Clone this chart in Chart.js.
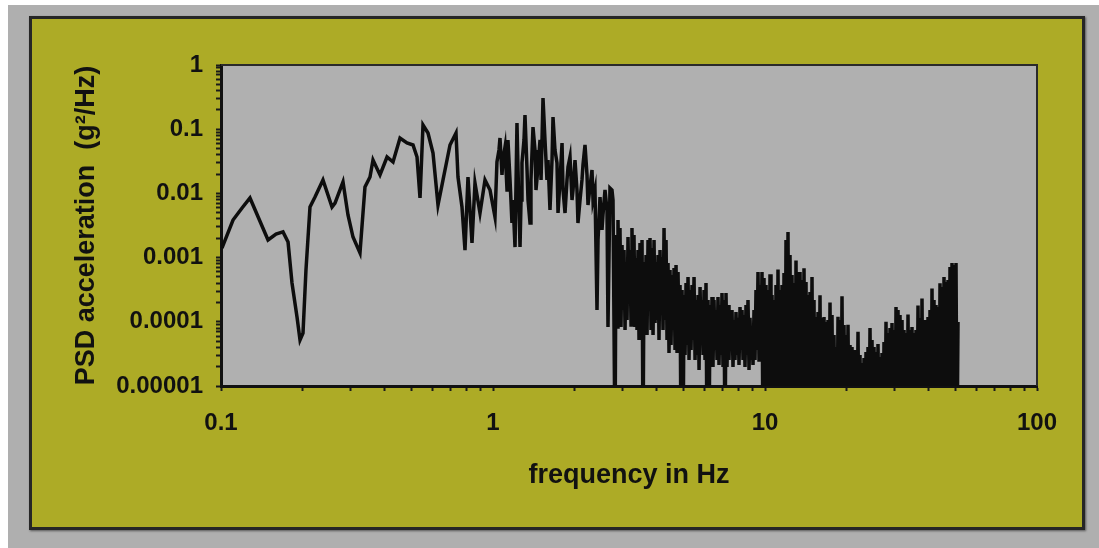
<!DOCTYPE html>
<html><head><meta charset="utf-8">
<script src="https://cdn.jsdelivr.net/npm/chart.js@4.4.0/dist/chart.umd.min.js"></script>
<style>
html,body{margin:0;padding:0;background:#fff;width:1099px;height:548px;overflow:hidden;}
#outer{position:absolute;left:8px;top:5px;width:1091px;height:543px;background:#afafaf;}
#panel{position:absolute;left:29px;top:16px;width:1056px;height:514px;box-sizing:border-box;border:3px solid #262626;background:#adab26;box-shadow:1px 1px 2px rgba(0,0,0,0.5);}
#wrap{position:absolute;left:32px;top:19px;width:1050px;height:508px;}
</style></head><body>
<div id="outer"></div><div id="panel"></div>
<div id="wrap"><canvas id="c" width="1050" height="508"></canvas></div>
<script>
// Band A: 0.1 - 1 Hz (frequency Hz / PSD g^2/Hz)
const freqA = [
 0.1008,0.1107,0.1195,0.1278,0.1489,0.1593,0.169,0.1764,0.1824,0.1903,
 0.1952,0.2002,0.2053,0.2124,0.2216,0.2371,0.2559,0.2625,0.2809,0.293,
 0.3057,0.3243,0.3383,0.353,0.3621,0.3842,0.4078,0.429,0.4551,0.4828,
 0.5081,0.5256,0.5391,0.5529,0.5768,0.6018,0.6278,0.655,0.6775,0.6949,
 0.7311,0.7435,0.7691,0.7889,0.8092,0.8371,0.8586,0.8957,0.9346,0.975
];
const psdA = [
 0.00141,0.00385,0.00593,0.00848,0.00188,0.00233,0.00251,0.00175,0.000402,0.000119,
 0.0000521,0.0000669,0.000641,0.00614,0.00879,0.0162,0.00614,0.00708,0.0151,0.00461,
 0.00209,0.00118,0.0126,0.018,0.0331,0.0194,0.0369,0.0308,0.0729,0.061,
 0.0568,0.0369,0.00848,0.116,0.0873,0.0426,0.00659,0.0162,0.0331,0.0568,
 0.0873,0.018,0.00614,0.00131,0.018,0.00169,0.0145,0.00495,0.0162,0.0113
];
// Band B: 1 - 2.8 Hz
const freqB = [
 1.017,1.034,1.052,1.061,1.079,1.088,1.107,1.126,1.135,1.155,
 1.174,1.184,1.205,1.225,1.236,1.257,1.268,1.278,1.3,1.311,
 1.334,1.345,1.368,1.379,1.403,1.427,1.439,1.464,1.489,1.502,
 1.527,1.553,1.579,1.593,1.62,1.648,1.662,1.69,1.719,1.734,
 1.764,1.794,1.809,1.84,1.871,1.887,1.919,1.952,1.969,2.002,
 2.036,2.053,2.089,2.124,2.142,2.179,2.216,2.235,2.273,2.312,
 2.332,2.371,2.412,2.433,2.474,2.516,2.537,2.581,2.625,2.647,
 2.692,2.738,2.762,2.809
];
const psdB = [
 0.00429,0.0308,0.0474,0.0729,0.0194,0.0331,0.0528,0.0113,0.0679,0.0162,
 0.00346,0.00789,0.00146,0.125,0.0231,0.00146,0.00789,0.0298,0.0679,0.166,
 0.0231,0.00789,0.00346,0.0162,0.108,0.0474,0.0113,0.0258,0.0679,0.0162,
 0.306,0.0679,0.0162,0.0331,0.00551,0.0331,0.155,0.0474,0.0298,0.00495,
 0.0162,0.061,0.0113,0.00495,0.0162,0.0258,0.0369,0.00789,0.0113,0.0331,
 0.0113,0.00346,0.00789,0.0162,0.0277,0.0568,0.0194,0.00659,0.0126,0.0231,
 0.00789,0.0113,0.000153,0.00188,0.00879,0.00269,0.00461,0.0113,0.00551,0.000083,
 0.0121,0.0113,0.00789,0.000001
];
// Band C: 2.8 - 10 Hz
const freqC = [
 2.833,2.857,2.881,2.905,2.93,2.955,2.981,3.006,3.032,3.058,
 3.084,3.11,3.136,3.163,3.19,3.217,3.243,3.271,3.299,3.327,
 3.355,3.384,3.413,3.442,3.471,3.501,3.531,3.561,3.592,3.622,
 3.653,3.684,3.715,3.746,3.778,3.81,3.843,3.876,3.909,3.942,
 3.975,4.009,4.043,4.077,4.112,4.147,4.182,4.218,4.254,4.29,
 4.327,4.363,4.4,4.437,4.475,4.513,4.552,4.591,4.63,4.669,
 4.709,4.749,4.789,4.83,4.871,4.913,4.955,4.997,5.039,5.082,
 5.125,5.168,5.212,5.257,5.302,5.347,5.392,5.438,5.484,5.531,
 5.578,5.626,5.673,5.722,5.771,5.82,5.869,5.919,5.969,6.018,
 6.069,6.121,6.173,6.225,6.278,6.331,6.385,6.439,6.494,6.55,
 6.606,6.662,6.718,6.775,6.833,6.891,6.949,7.008,7.068,7.128,
 7.189,7.25,7.311,7.373,7.436,7.499,7.563,7.627,7.692,7.757,
 7.823,7.89,7.957,8.025,8.094,8.163,8.232,8.302,8.372,8.443,
 8.515,8.588,8.66,8.734,8.808,8.883,8.959,9.035,9.112,9.189,
 9.267,9.346,9.425,9.505,9.585,9.667,9.749,9.831,9.916,10.0
];
const psdC = [
 0.00225,0.000083,0.00385,0.000219,0.00289,0.000083,0.00157,0.000153,0.00131,0.0000745,
 0.000854,0.000107,0.00209,0.000219,0.00131,0.0000892,0.00289,0.000153,0.00225,0.000083,
 0.000986,0.0000745,0.00131,0.0000521,0.00169,0.0000892,0.00188,0.000001,0.000854,0.0000745,
 0.0011,0.0000623,0.00188,0.000153,0.00202,0.0000745,0.00141,0.0000623,0.00188,0.0000958,
 0.000854,0.000107,0.0011,0.0000521,0.00131,0.000128,0.00102,0.0000745,0.00289,0.000107,
 0.00188,0.0000521,0.000824,0.0000327,0.000641,0.0000435,0.000536,0.0000745,0.000689,0.0000364,
 0.000767,0.0000327,0.000597,0.0000521,0.000374,0.000001,0.000313,0.000001,0.000262,0.0000304,
 0.000402,0.0000435,0.000499,0.0000254,0.000313,0.0000364,0.000374,0.0000521,0.000499,0.0000254,
 0.000219,0.0000304,0.000262,0.0000177,0.000348,0.0000435,0.000219,0.0000304,0.000313,0.0000254,
 0.000402,0.000001,0.000219,0.000001,0.000183,0.0000212,0.000243,0.0000198,0.000219,0.0000364,
 0.000153,0.0000254,0.000243,0.0000212,0.000183,0.0000304,0.000281,0.0000198,0.000219,0.000001,
 0.000281,0.0000198,0.000183,0.0000254,0.000128,0.0000364,0.000153,0.0000198,0.000107,0.0000254,
 0.000142,0.0000304,0.000115,0.0000212,0.00017,0.0000364,0.000153,0.0000254,0.000128,0.0000198,
 0.000183,0.0000304,0.000219,0.0000177,0.000115,0.0000254,0.000083,0.0000212,0.000153,0.0000254,
 0.000313,0.0000364,0.000597,0.0000254,0.000374,0.0000304,0.000597,0.000001,0.000481,0.000001
];
// Band D: 10 - 52 Hz
const freqD = [
 10.085,10.171,10.257,10.345,10.433,10.521,10.611,10.701,10.792,10.884,
 10.977,11.07,11.164,11.259,11.355,11.451,11.549,11.647,11.746,11.846,
 11.946,12.048,12.15,12.254,12.358,12.463,12.569,12.676,12.784,12.892,
 13.002,13.112,13.224,13.336,13.45,13.564,13.679,13.796,13.913,14.031,
 14.15,14.271,14.392,14.514,14.638,14.762,14.888,15.014,15.142,15.271,
 15.401,15.532,15.664,15.797,15.931,16.066,16.203,16.341,16.48,16.62,
 16.761,16.904,17.047,17.192,17.338,17.486,17.634,17.784,17.935,18.088,
 18.242,18.397,18.553,18.711,18.87,19.03,19.192,19.355,19.52,19.686,
 19.853,20.022,20.192,20.364,20.537,20.711,20.887,21.065,21.244,21.425,
 21.607,21.791,21.976,22.163,22.351,22.541,22.733,22.926,23.121,23.318,
 23.516,23.716,23.917,24.121,24.326,24.533,24.741,24.952,25.164,25.378,
 25.593,25.811,26.03,26.252,26.475,26.7,26.927,27.156,27.386,27.619,
 27.854,28.091,28.33,28.571,28.814,29.059,29.306,29.555,29.806,30.059,
 30.315,30.573,30.833,31.095,31.359,31.626,31.895,32.166,32.439,32.715,
 32.993,33.274,33.557,33.842,34.13,34.42,34.712,35.008,35.305,35.605,
 35.908,36.213,36.521,36.831,37.144,37.46,37.779,38.1,38.424,38.75,
 39.08,39.412,39.747,40.085,40.426,40.769,41.116,41.465,41.818,42.173,
 42.532,42.893,43.258,43.626,43.997,44.371,44.748,45.128,45.512,45.899,
 46.289,46.683,47.08,47.48,47.883,48.29,48.701,49.115,49.532,49.953,
 50.378,50.806,51.238
];
const psdD = [
 0.000374,1e-6,0.000313,1e-6,0.00055,1e-6,0.000262,1e-6,0.000219,1e-6,
 0.000374,1e-6,0.00065,1e-6,0.000313,1e-6,0.000374,1e-6,0.000576,1e-6,
 0.00188,1e-6,0.0025,1e-6,0.0011,1e-6,0.000536,1e-6,0.000402,1e-6,
 0.0009,1e-6,0.000597,1e-6,0.000597,1e-6,0.000448,1e-6,0.00068,1e-6,
 0.000417,1e-6,0.000262,1e-6,0.000291,1e-6,0.0005,1e-6,0.000219,1e-6,
 0.000119,1e-6,0.000142,1e-6,0.00026,1e-6,0.000115,1e-6,0.000119,1e-6,
 0.0000993,1e-6,0.000107,1e-6,0.0002,1e-6,0.000128,1e-6,0.0000623,1e-6,
 0.0000405,1e-6,0.00012,1e-6,0.000107,1e-6,0.00025,1e-6,0.0000892,1e-6,
 0.0000623,1e-6,0.00009,1e-6,0.0000435,1e-6,0.0000405,1e-6,0.0000364,1e-6,
 0.0000364,1e-6,0.00007,1e-6,0.0000304,1e-6,0.0000228,1e-6,0.0000273,1e-6,
 0.0000339,1e-6,0.0000405,1e-6,0.00008,1e-6,0.0000521,1e-6,0.0000405,1e-6,
 0.0000339,1e-6,0.000045,1e-6,0.0000283,1e-6,0.0000327,1e-6,0.0000485,1e-6,
 0.0001,1e-6,0.0000669,1e-6,0.0000801,1e-6,0.0000958,1e-6,0.0000745,1e-6,
 0.00017,1e-6,0.000153,1e-6,0.000128,1e-6,0.000107,1e-6,0.0000745,1e-6,
 0.0000669,1e-6,0.00013,1e-6,0.0000745,1e-6,0.000083,1e-6,0.0000669,1e-6,
 0.0000745,1e-6,0.00018,1e-6,0.000115,1e-6,0.00023,1e-6,0.000107,1e-6,
 0.000107,1e-6,0.000119,1e-6,0.000153,1e-6,0.00033,1e-6,0.000219,1e-6,
 0.000183,1e-6,0.00017,1e-6,0.0004,1e-6,0.000348,1e-6,0.000499,1e-6,
 0.000417,1e-6,0.000448,1e-6,0.000714,1e-6,0.000824,1e-6,0.000767,1e-6,
 0.000824,1e-6,0.0000993
];
const xMajorTicks = [0.1, 1, 10, 100];
const xTickLabels = ['0.1', '1', '10', '100'];
const yMajorTicks = [0.00001, 0.0001, 0.001, 0.01, 0.1, 1];
const yTickLabels = ['0.00001', '0.0001', '0.001', '0.01', '0.1', '1'];
const minorSteps = [2, 3, 4, 5, 6, 7, 8, 9];

const freq = freqA.concat(freqB, freqC, freqD);
const psd = psdA.concat(psdB, psdC, psdD);

function allTicks(majors) {
  const out = [];
  majors.forEach((m, i) => {
    out.push({value: m, major: true});
    if (i < majors.length - 1) minorSteps.forEach(k => out.push({value: m * k, major: false}));
  });
  return out;
}
function labelFor(majors, labels, v) {
  const i = majors.findIndex(m => Math.abs(m - v) / m < 1e-6);
  return i >= 0 ? labels[i] : '';
}

const FONT = "'Liberation Sans', Arial, sans-serif";
const plotFrame = {
  id: 'plotFrame',
  beforeDraw(chart) {
    const {ctx, chartArea: a} = chart;
    ctx.save();
    ctx.fillStyle = '#b0b0b0';
    ctx.fillRect(a.left, a.top, a.right - a.left, a.bottom - a.top);
    ctx.restore();
  },
  afterDraw(chart) {
    const {ctx, chartArea: a} = chart;
    ctx.save();
    ctx.strokeStyle = '#2a2a2a';
    ctx.lineWidth = 2;
    ctx.beginPath();
    ctx.moveTo(a.left, a.top); ctx.lineTo(a.right, a.top); ctx.lineTo(a.right, a.bottom);
    ctx.stroke();
    ctx.restore();
  }
};

new Chart(document.getElementById('c'), {
  type: 'line',
  data: {
    datasets: [{
      data: freq.map((f, i) => ({x: f, y: psd[i]})),
      borderColor: '#0d0d0d',
      borderWidth: 3.5,
      pointRadius: 0,
      fill: false,
      tension: 0
    }]
  },
  options: {
    responsive: false,
    animation: false,
    parsing: false,
    layout: {padding: {left: 0, top: 46, right: 45, bottom: 0}},
    plugins: {legend: {display: false}, tooltip: {enabled: false}},
    scales: {
      x: {
        type: 'logarithmic', position: 'bottom', min: 0.1, max: 100,
        afterBuildTicks: s => { s.ticks = allTicks(xMajorTicks); },
        afterFit: s => { s.height = 141; },
        border: {display: true, color: '#111', width: 3},
        grid: {display: true, drawOnChartArea: false, drawTicks: true, tickLength: 5, tickWidth: 2, tickColor: '#1a1a1a'},
        ticks: {autoSkip: false, maxRotation: 0, padding: 18, color: '#111',
          font: {family: FONT, size: 24, weight: 'bold'},
          callback: v => labelFor(xMajorTicks, xTickLabels, v)},
        title: {display: true, text: 'frequency in Hz', color: '#111',
          font: {family: FONT, size: 27, weight: 'bold'}, padding: {top: 0, bottom: 35}}
      },
      y: {
        type: 'logarithmic', position: 'left', min: 0.00001, max: 1,
        afterBuildTicks: s => { s.ticks = allTicks(yMajorTicks); },
        afterFit: s => { s.width = 189; },
        border: {display: true, color: '#111', width: 3},
        grid: {display: true, drawOnChartArea: false, drawTicks: true, tickLength: 5, tickWidth: 2, tickColor: '#1a1a1a'},
        ticks: {autoSkip: false, padding: 13, color: '#111',
          font: {family: FONT, size: 24, weight: 'bold'},
          callback: v => labelFor(yMajorTicks, yTickLabels, v)},
        title: {display: true, text: 'PSD acceleration  (g\u00B2/Hz)', color: '#111',
          font: {family: FONT, size: 27, weight: 'bold'}, padding: {top: 38, bottom: 0}}
      }
    }
  },
  plugins: [plotFrame]
});
</script>
</body></html>
